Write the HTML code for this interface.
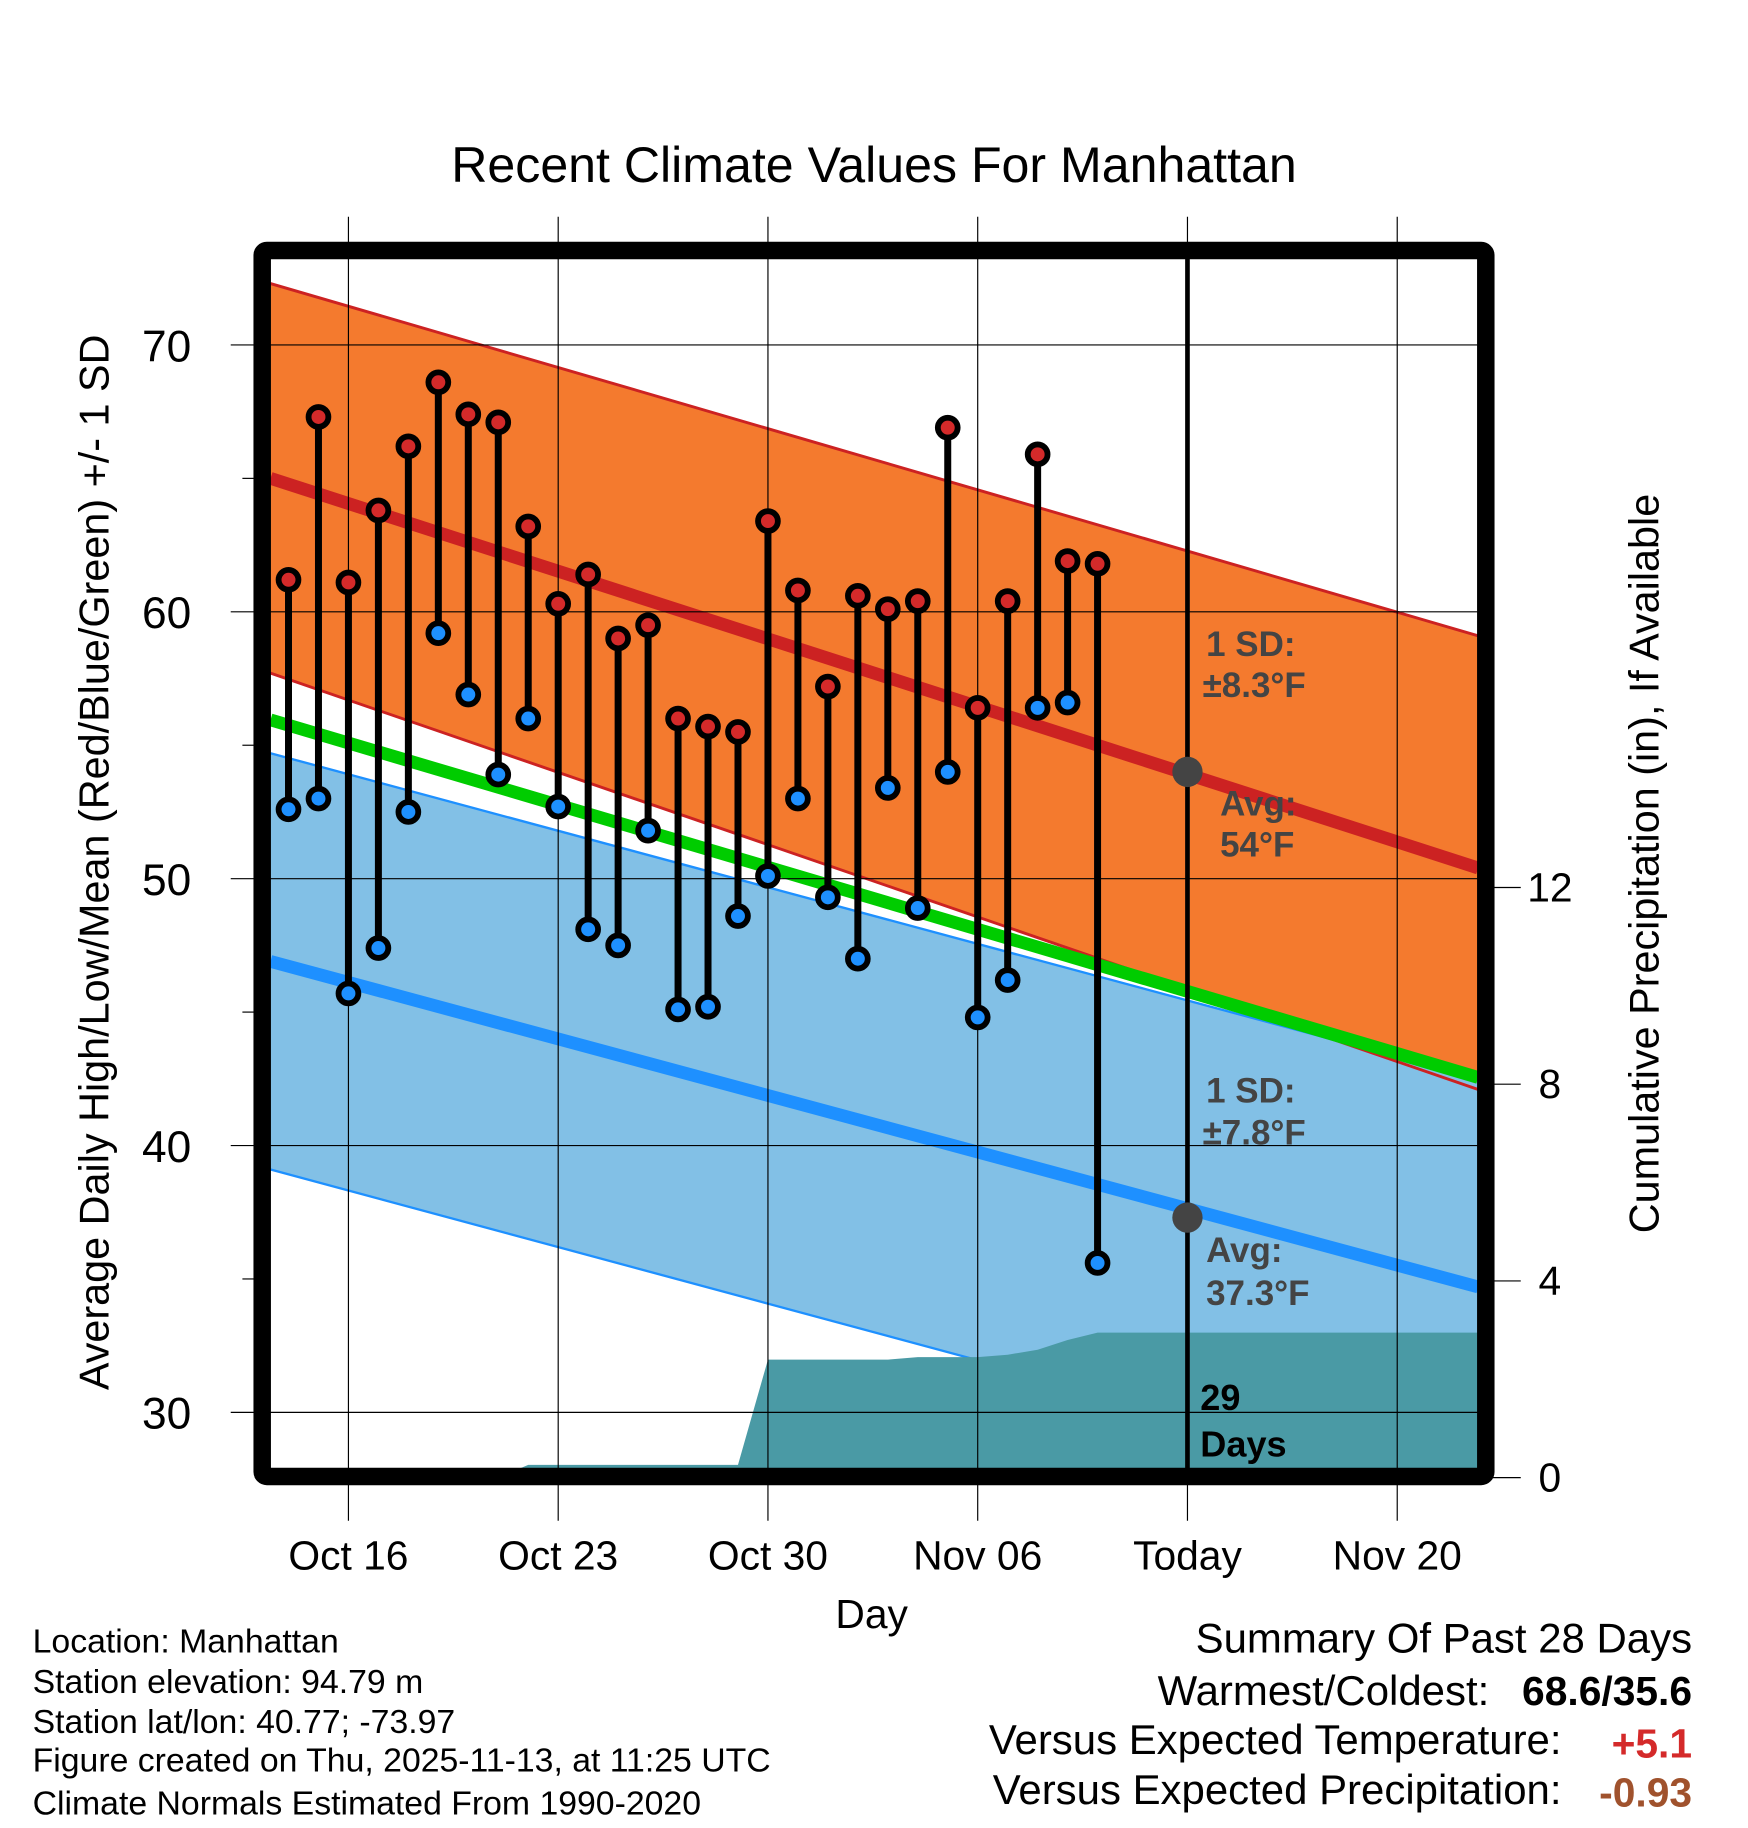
<!DOCTYPE html>
<html><head><meta charset="utf-8"><style>
html,body{margin:0;padding:0;background:#fff;}
svg{display:block;font-family:"Liberation Sans",sans-serif;}
</style></head><body>
<svg id="chart" width="1748" height="1828" viewBox="0 0 1500 1568.65" xmlns="http://www.w3.org/2000/svg">
<rect width="1500" height="1568.65" fill="#fff"/>
<g id="bands"></g>
<g id="grid"></g>
<g id="marks"></g>
<g id="frame"></g>
<g id="texts"></g>
</svg>
<script>
// ---- data ----
const days = [-2,-1,0,1,2,3,4,5,6,7,8,9,10,11,12,13,14,15,16,17,18,19,20,21,22,23,24,25];
const highs = [61.2,67.3,61.1,63.8,66.2,68.6,67.4,67.1,63.2,60.3,61.4,59.0,59.5,56.0,55.7,55.5,63.4,60.8,57.2,60.6,60.1,60.4,66.9,56.4,60.4,65.9,61.9,61.8];
const lows = [52.6,53.0,45.7,47.4,52.5,59.2,56.9,53.9,56.0,52.7,48.1,47.5,51.8,45.1,45.2,48.6,50.1,53.0,49.3,47.0,53.4,48.9,54.0,44.8,46.2,56.4,56.6,35.6];
const precip = [0,0,0,0,0,0,0,0,0.1,0.1,0.1,0.1,0.1,0.1,0.1,0.1,2.4,2.4,2.4,2.4,2.4,2.45,2.45,2.45,2.5,2.6,2.8,2.95];
const normDays = [-2.6, 37.7];
const normHigh = [65.0, 50.4];
const hiUp = [72.3, 59.1];
const hiDn = [57.7, 42.1];
const normLow = [46.9, 34.7];
const loUp = [54.7, 42.5];
const loDn = [39.1, 26.9];
const todayDay = [28];
const todayHigh = [54.0];
const todayLow = [37.3];
const tickDays = [0,7,14,21,28,35];
const tickLabels = ["Oct 16","Oct 23","Oct 30","Nov 06","Today","Nov 20"];
const yTicks = [30,40,50,60,70];
const yMinor = [35,45,55,65];
const pTicks = [0,4,8,12];

// ---- scales ----
const X0=232, X1=1268, Y0=222, Y1=1260;
function xs(d){return 299 + d*25.714;}
function ys(v){return 296 + (70 - v)*22.9;}
function ps(p){return 1268 - p*42.2;}
function psArea(p){return p>0 ? Math.min(ps(p), 1257) : ps(p);}
const NS="http://www.w3.org/2000/svg";
function mk(parent,tag,attrs){const e=document.createElementNS(NS,tag);for(const k in attrs)e.setAttribute(k,attrs[k]);document.getElementById(parent).appendChild(e);return e;}
function lerp(arr,d){const t=(d-normDays[0])/(normDays[1]-normDays[0]);return arr[0]+(arr[1]-arr[0])*t;}

const dl=normDays[0], dr=normDays[1];
const meanN=[(normHigh[0]+normLow[0])/2,(normHigh[1]+normLow[1])/2];
let e;
e=mk('bands','clipPath',{id:'plotclip'});
mk('plotclip','rect',{x:X0,y:Y0,width:X1-X0,height:Y1-Y0});
function bandPts(lo,hi){return `${xs(dl)},${ys(hi[0])} ${xs(dr)},${ys(hi[1])} ${xs(dr)},${ys(lo[1])} ${xs(dl)},${ys(lo[0])}`;}
e=mk('bands','polygon',{points:bandPts(hiDn,hiUp),fill:'#f47a2e','clip-path':'url(#plotclip)'});


e=mk('bands','polygon',{points:bandPts(loDn,loUp),fill:'#82c0e6','clip-path':'url(#plotclip)'});


function line(g,arr,col,w,name){const l=mk(g,'line',{x1:xs(dl),y1:ys(arr[0]),x2:xs(dr),y2:ys(arr[1]),stroke:col,'stroke-width':w,'clip-path':'url(#plotclip)'});return l;}
line('bands',hiUp,'#cc2222',2.5,'high-sd-upper-edge');
line('bands',hiDn,'#cc2222',2.5,'high-sd-lower-edge');
line('bands',loUp,'#1e90ff',2,'low-sd-upper-edge');
line('bands',loDn,'#1e90ff',2,'low-sd-lower-edge');
line('bands',meanN,'#00cc00',11,'normal-mean-line');
line('bands',normLow,'#1e90ff',11,'normal-low-line');
line('bands',normHigh,'#cc2222',11,'normal-high-line');
// precip area
let pts=`${X0},${Y1} ${X0},${psArea(precip[0])} `;
for(let i=0;i<days.length;i++) pts+=`${xs(days[i])},${psArea(precip[i])} `;
pts+=`${X1},${psArea(precip[precip.length-1])} ${X1},${Y1}`;
e=mk('bands','polygon',{points:pts,fill:'#4a9aa5'});



// grid
for(let i=0;i<tickDays.length;i++){
  e=mk('grid','line',{x1:xs(tickDays[i]),y1:186,x2:xs(tickDays[i]),y2:1305,stroke:'#000','stroke-width':1});
  
  
}
for(const v of yTicks){
  e=mk('grid','line',{x1:198,y1:ys(v),x2:X1,y2:ys(v),stroke:'#000','stroke-width':1});
  
  
}
for(const v of yMinor){
  e=mk('grid','line',{x1:208,y1:ys(v),x2:220,y2:ys(v),stroke:'#000','stroke-width':1});
  
  
}
for(const p of pTicks){
  e=mk('grid','line',{x1:1280,y1:ps(p),x2:1305,y2:ps(p),stroke:'#000','stroke-width':1});
  
  
}

// marks
for(let i=0;i<days.length;i++){
  const x=xs(days[i]);
  e=mk('marks','line',{x1:x,y1:ys(highs[i]),x2:x,y2:ys(lows[i]),stroke:'#000','stroke-width':6});
  
  
  e=mk('marks','circle',{cx:x,cy:ys(highs[i]),r:8.5,fill:'#d42a2a',stroke:'#000','stroke-width':5});
  
  
  e=mk('marks','circle',{cx:x,cy:ys(lows[i]),r:8.5,fill:'#1e90ff',stroke:'#000','stroke-width':5});
  
  
}
e=mk('marks','line',{x1:xs(todayDay[0]),y1:Y0,x2:xs(todayDay[0]),y2:Y1,stroke:'#000','stroke-width':4});


e=mk('marks','circle',{cx:xs(todayDay[0]),cy:ys(todayHigh[0]),r:13,fill:'#444'});


e=mk('marks','circle',{cx:xs(todayDay[0]),cy:ys(todayLow[0]),r:13,fill:'#444'});



// frame
e=mk('frame','rect',{x:225,y:215,width:1050,height:1052,fill:'none',stroke:'#000','stroke-width':15,rx:4});



// texts
function txt(s,x,y,size,opts={}){const t=mk('texts','text',Object.assign({x:x,y:y,'font-size':size,fill:'#000'},opts));t.textContent=s;return t;}
e=txt('Recent Climate Values For Manhattan',750,156,43,{'text-anchor':'middle'});


for(const v of yTicks){
  e=txt(String(v),143,ys(v)+14,38,{'text-anchor':'middle'});
  
  
}
for(const p of pTicks){
  e=txt(String(p),1330,ps(p)+12,35,{'text-anchor':'middle'});
  
  
}
for(let i=0;i<tickDays.length;i++){
  e=txt(tickLabels[i],xs(tickDays[i]),1347,35,{'text-anchor':'middle'});
  
  
}
e=txt('Day',748,1397,35,{'text-anchor':'middle'});


e=txt('Average Daily High/Low/Mean (Red/Blue/Green) +/- 1 SD',93,740,35.5,{'text-anchor':'middle',transform:'rotate(-90 93 740)'});


e=txt('Cumulative Precipitation (in), If Available',1423,741,35.5,{'text-anchor':'middle',transform:'rotate(-90 1423 741)'});


const ann={'font-weight':'bold',fill:'#444'};
const annot=[['1 SD:',1035,563,'high-sd-label'],['±8.3°F',1032,598,'high-sd-value'],['Avg:',1047,700,'high-avg-label'],['54°F',1047,735,'high-avg-value'],['1 SD:',1035,946,'low-sd-label'],['±7.8°F',1032,982,'low-sd-value'],['Avg:',1035,1083,'low-avg-label'],['37.3°F',1035,1120,'low-avg-value']];
for(const a of annot){
  e=txt(a[0],a[1],a[2],30,ann);
  
  
}
e=txt('29',1030,1210,31,{'font-weight':'bold'});


e=txt('Days',1030,1250,31,{'font-weight':'bold'});


const info=[['Location: Manhattan',1418],['Station elevation: 94.79 m',1453],['Station lat/lon: 40.77; -73.97',1487],['Figure created on Thu, 2025-11-13, at 11:25 UTC',1520],['Climate Normals Estimated From 1990-2020',1557]];
for(const a of info){
  e=txt(a[0],28,a[1],29);
  
  
}
e=txt('Summary Of Past 28 Days',1452,1418,36,{'text-anchor':'end'});


e=txt('Warmest/Coldest:',1278,1463,36,{'text-anchor':'end'});


e=txt('68.6/35.6',1452,1463,35,{'text-anchor':'end','font-weight':'bold'});


e=txt('Versus Expected Temperature:',1340,1505,36,{'text-anchor':'end'});


e=txt('+5.1',1452,1508,35,{'text-anchor':'end','font-weight':'bold',fill:'#d42a2a'});


e=txt('Versus Expected Precipitation:',1340,1548,36,{'text-anchor':'end'});


e=txt('-0.93',1452,1550,35,{'text-anchor':'end','font-weight':'bold',fill:'#a0522d'});


</script>
</body></html>
